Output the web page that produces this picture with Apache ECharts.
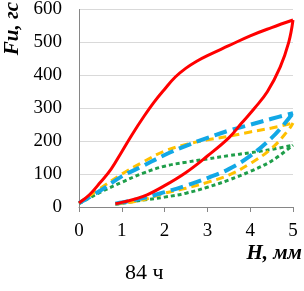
<!DOCTYPE html>
<html><head><meta charset="utf-8">
<script src="https://cdn.jsdelivr.net/npm/echarts@6/dist/echarts.min.js"></script>
<style>html,body{margin:0;padding:0;background:#fff}#c{width:304px;height:291px}</style>
</head><body><div id="c"></div>
<script>
// Hysteresis loops: [H, Fu] pairs, loading (up) and unloading (down)
const redUp = [[0,12],[0.25,38],[0.5,75],[0.75,115],[1,168],[1.25,222],[1.5,272],[1.75,318],[2,358],[2.25,395],[2.5,422],[2.75,443],[3,460],[3.5,490],[4,520],[4.5,545],[5,568]];
const redDown = [[0.85,10],[1,14],[1.5,32],[2,65],[2.5,105],[3,155],[3.5,210],[3.8,255],[4.1,300],[4.4,350],[4.7,425],[4.9,500],[5,568]];
const blueUp = [[0,12],[0.5,50],[1,93],[1.5,125],[2,158],[2.5,186],[3,210],[3.5,232],[4,250],[4.5,268],[5,285]];
const blueDown = [[0.85,10],[1,14],[1.5,27],[2,45],[2.5,65],[3,88],[3.5,115],[4,155],[4.5,210],[4.75,245],[5,285]];
const orangeUp = [[0,12],[0.5,57],[1,100],[1.5,137],[2,170],[2.5,190],[3,204],[3.5,215],[4,228],[4.5,240],[5,255]];
const orangeDown = [[0.85,8],[1.5,22],[2,42],[2.5,57],[3,75],[3.5,97],[4,132],[4.5,178],[4.9,235],[5,255]];
const greenUp = [[0,10],[0.5,45],[1,75],[1.5,103],[2,124],[2.5,136],[3,146],[3.5,156],[4,165],[4.5,175],[5,188]];
const greenDown = [[0.85,8],[1.5,21],[2,30],[2.5,42],[3,60],[3.5,82],[4,108],[4.5,140],[5,188]];
const xTicks = [0,1,2,3,4,5];
const yTicks = [0,100,200,300,400,500,600];

const serif = 'Liberation Serif';
function mk(data, color, width, dash) {
  return {type:'line', data:data, smooth:0.4, symbol:'none',
    lineStyle:{color:color, width:width, type:dash, cap:'butt'}};
}
const chart = echarts.init(document.getElementById('c'), null, {renderer:'canvas'});
chart.setOption({
  animation:false,
  grid:{left:79, right:11, top:7, bottom:84},
  xAxis:{type:'value', min:xTicks[0], max:xTicks[xTicks.length-1], interval:1,
    axisLine:{lineStyle:{color:'#868686', width:1}},
    axisTick:{show:true, length:5, lineStyle:{color:'#868686'}},
    axisLabel:{color:'#000', fontFamily:serif, fontSize:19, margin:15},
    splitLine:{show:false}},
  yAxis:{type:'value', min:yTicks[0], max:yTicks[yTicks.length-1], interval:100,
    axisLine:{show:true, lineStyle:{color:'#868686', width:1}},
    axisTick:{show:false},
    axisLabel:{color:'#000', fontFamily:serif, fontSize:19, margin:17},
    splitLine:{lineStyle:{color:'#d9d9d9', width:1}}},
  graphic:[
    {type:'text', left:2, top:2, rotation:Math.PI/2, style:{text:'Fu, гс', font:'italic bold 21px "Liberation Serif"', fill:'#000'}},
    {type:'text', right:2, top:243, style:{text:'H, мм', font:'italic bold 21px "Liberation Serif"', fill:'#000'}},
    {type:'text', left:125, top:262, style:{text:'84 ч', font:'22px "Liberation Serif"', fill:'#000'}}
  ],
  series:[
    mk(greenUp,'#1f9e4a',3,[4,3]),
    mk(greenDown,'#1f9e4a',3,[4,3]),
    mk(orangeUp,'#ffc000',3,[8,5]),
    mk(orangeDown,'#ffc000',3,[8,5]),
    mk(blueUp,'#12a8e6',4,[13,6]),
    mk(blueDown,'#12a8e6',4,[13,6]),
    mk(redUp,'#ff0000',3,'solid'),
    mk(redDown,'#ff0000',3,'solid')
  ]
});
</script></body></html>
